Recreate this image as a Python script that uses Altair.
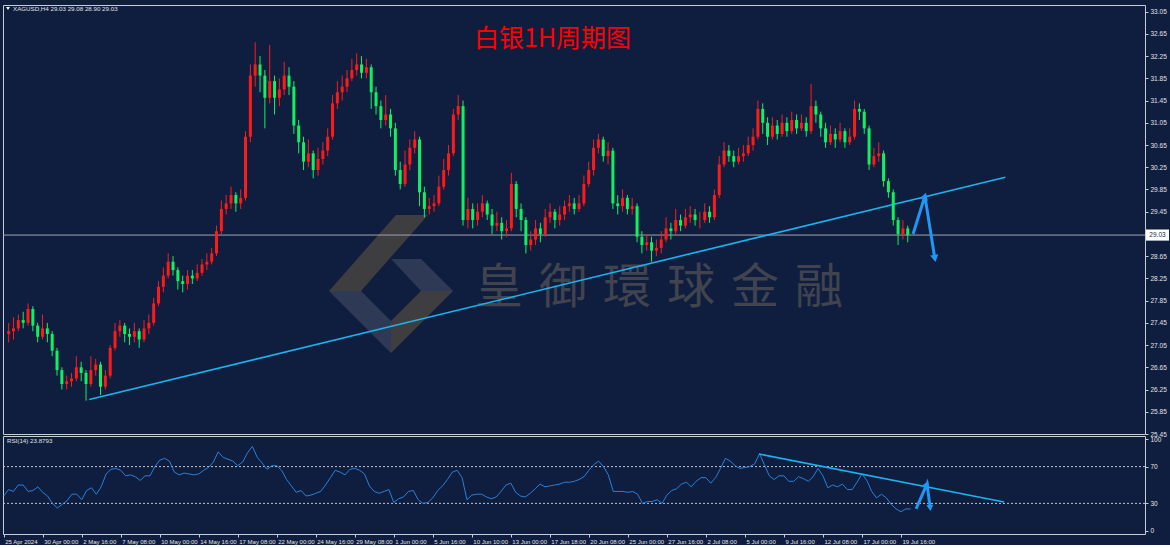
import json
import altair as alt
import pandas as pd

# ---------------- data ----------------
first_open = 27.25
closes = [
    27.30, 27.35, 27.50, 27.45, 27.70, 27.40, 27.20, 27.35, 27.25, 26.95,
    26.60, 26.35, 26.40, 26.45, 26.65, 26.55, 26.35, 26.60, 26.70, 26.30,
    26.50, 27.00, 27.30, 27.40, 27.25, 27.20, 27.30, 27.15, 27.35, 27.45,
    27.80, 28.10, 28.30, 28.55, 28.40, 28.20, 28.15, 28.30, 28.25, 28.35,
    28.50, 28.55, 28.70, 29.10, 29.50, 29.60, 29.75, 29.60, 29.70, 30.80,
    31.90, 32.10, 31.90, 31.50, 31.80, 31.50, 31.65, 31.90, 31.70, 31.00,
    30.70, 30.35, 30.50, 30.20, 30.40, 30.55, 30.80, 31.40, 31.60, 31.70,
    31.85, 32.00, 32.10, 31.95, 32.05, 31.60, 31.35, 31.10, 31.20, 30.95,
    30.20, 29.95, 30.30, 30.60, 30.75, 29.80, 29.50, 29.55, 29.60, 29.90,
    30.20, 30.50, 31.20, 31.35, 29.30, 29.50, 29.30, 29.45, 29.60, 29.40,
    29.20, 29.25, 29.10, 29.15, 29.95, 29.50, 29.30, 28.85, 28.95, 29.15,
    29.05, 29.35, 29.45, 29.30, 29.40, 29.55, 29.60, 29.50, 29.60, 29.95,
    30.20, 30.60, 30.75, 30.45, 30.55, 29.60, 29.55, 29.70, 29.50, 29.55,
    29.00, 28.85, 28.90, 28.75, 28.80, 28.95, 29.15, 29.10, 29.30, 29.20,
    29.35, 29.40, 29.30, 29.30, 29.45, 29.35, 29.75, 30.30, 30.55, 30.45,
    30.35, 30.45, 30.50, 30.65, 30.80, 31.30, 31.05, 30.80, 31.00, 30.85,
    31.05, 30.90, 31.10, 30.95, 31.05, 30.90, 31.35, 31.20, 30.95, 30.70,
    30.85, 30.75, 30.90, 30.70, 30.80, 31.30, 31.25, 30.95, 30.30, 30.45,
    30.50, 30.00, 29.80, 29.30, 29.05, 29.15, 29.03]
highs = [
    27.45, 27.55, 27.60, 27.65, 27.80, 27.75, 27.45, 27.60, 27.45, 27.30,
    27.00, 26.65, 26.50, 26.55, 26.85, 26.75, 26.60, 26.85, 26.80, 26.75,
    26.60, 27.05, 27.45, 27.50, 27.45, 27.35, 27.45, 27.35, 27.50, 27.60,
    27.90, 28.20, 28.45, 28.70, 28.65, 28.45, 28.30, 28.40, 28.40, 28.50,
    28.60, 28.70, 28.80, 29.20, 29.65, 29.75, 29.90, 29.80, 29.85, 30.90,
    32.10, 32.50, 32.25, 32.00, 32.45, 31.90, 31.85, 32.15, 32.05, 31.80,
    31.10, 30.80, 30.75, 30.55, 30.60, 30.70, 30.95, 31.55, 31.80, 31.90,
    32.00, 32.20, 32.30, 32.25, 32.20, 32.10, 31.70, 31.45, 31.55, 31.30,
    31.05, 30.35, 30.55, 30.75, 30.90, 30.80, 29.90, 29.70, 29.75, 30.10,
    30.40, 30.65, 31.30, 31.55, 31.45, 29.70, 29.60, 29.60, 29.75, 29.65,
    29.50, 29.45, 29.35, 29.30, 30.15, 30.00, 29.60, 29.35, 29.10, 29.30,
    29.25, 29.50, 29.60, 29.50, 29.55, 29.65, 29.75, 29.70, 29.75, 30.10,
    30.35, 30.75, 30.85, 30.80, 30.70, 30.60, 29.75, 29.85, 29.75, 29.70,
    29.60, 29.10, 29.05, 29.00, 28.95, 29.10, 29.35, 29.25, 29.50, 29.40,
    29.50, 29.55, 29.50, 29.45, 29.60, 29.55, 29.85, 30.45, 30.70, 30.65,
    30.55, 30.60, 30.65, 30.80, 30.95, 31.45, 31.40, 31.15, 31.15, 31.10,
    31.20, 31.15, 31.25, 31.20, 31.20, 31.15, 31.75, 31.45, 31.25, 31.05,
    31.00, 30.95, 31.05, 30.95, 30.95, 31.45, 31.40, 31.30, 31.00, 30.60,
    30.70, 30.55, 30.05, 29.85, 29.35, 29.30, 29.20]
lows = [
    27.10, 27.15, 27.30, 27.35, 27.40, 27.30, 27.10, 27.15, 27.10, 26.85,
    26.50, 26.25, 26.25, 26.30, 26.40, 26.40, 26.05, 26.30, 26.50, 26.15,
    26.25, 26.45, 26.95, 27.20, 27.10, 27.05, 27.10, 27.00, 27.10, 27.25,
    27.40, 27.75, 28.00, 28.25, 28.30, 28.05, 28.00, 28.05, 28.15, 28.20,
    28.30, 28.40, 28.50, 28.65, 29.05, 29.40, 29.50, 29.45, 29.50, 29.65,
    30.70, 31.70, 31.60, 30.95, 31.40, 31.20, 31.35, 31.55, 31.55, 30.85,
    30.50, 30.20, 30.25, 30.05, 30.10, 30.30, 30.45, 30.75, 31.30, 31.45,
    31.60, 31.80, 31.90, 31.85, 31.85, 31.30, 31.20, 30.95, 31.00, 30.80,
    30.10, 29.85, 29.90, 30.20, 30.50, 29.55, 29.35, 29.40, 29.45, 29.55,
    29.85, 30.10, 30.45, 31.10, 29.20, 29.15, 29.15, 29.20, 29.35, 29.30,
    29.05, 29.10, 28.95, 29.00, 29.10, 29.35, 29.10, 28.70, 28.75, 28.85,
    28.90, 29.00, 29.25, 29.15, 29.20, 29.30, 29.45, 29.40, 29.45, 29.55,
    29.90, 30.10, 30.50, 30.35, 30.30, 29.50, 29.40, 29.45, 29.40, 29.40,
    28.90, 28.70, 28.75, 28.55, 28.65, 28.70, 28.90, 28.95, 29.05, 29.10,
    29.15, 29.25, 29.20, 29.15, 29.25, 29.25, 29.30, 29.70, 30.25, 30.35,
    30.25, 30.30, 30.35, 30.45, 30.55, 30.75, 30.85, 30.65, 30.75, 30.75,
    30.80, 30.80, 30.85, 30.85, 30.90, 30.80, 30.85, 31.05, 30.80, 30.60,
    30.65, 30.60, 30.70, 30.60, 30.65, 30.75, 31.10, 30.85, 30.20, 30.25,
    30.35, 29.90, 29.70, 29.20, 28.85, 28.95, 28.90]
rsi_values = [
    38, 45, 43, 50, 50, 43, 44, 48, 42, 38,
    30, 25, 29, 33, 40, 40, 34, 44, 47, 40,
    48, 62, 67, 68, 66, 60, 61, 59, 55, 60,
    60, 70, 77, 79, 76, 64, 61, 63, 62, 61,
    62, 66, 69, 75, 86, 80, 78, 76, 71, 75,
    85, 92, 80, 74, 67, 71, 71, 66, 56, 49,
    42, 44, 38, 39, 41, 43, 50, 58, 66, 64,
    61, 67, 68, 66, 62, 49, 43, 41, 43, 45,
    31, 35, 37, 43, 44, 34, 30, 31, 36, 44,
    49, 56, 64, 66, 58, 34, 39, 40, 40, 37,
    35, 37, 43, 50, 52, 42, 38, 37, 41, 46,
    51, 48, 49, 50, 51, 53, 53, 54, 56, 59,
    66, 72, 76, 70, 61, 43, 43, 43, 42, 43,
    40, 30, 32, 32, 34, 30, 39, 44, 46, 51,
    53, 48, 54, 58, 58, 52, 58, 68, 79, 76,
    71, 68, 69, 70, 73, 84, 72, 60, 56, 60,
    60, 54, 54, 59, 57, 54, 59, 68, 60, 47,
    50, 48, 51, 45, 45, 53, 62, 55, 43, 36,
    40, 36, 29, 24, 21, 24, 23.88]

bars_per_candle = 2  # each drawn candle covers two H4 bars
x_tick_bars = [0, 16, 32, 48, 64, 80, 96, 112, 128, 144, 160, 176,
               192, 208, 224, 240, 256, 272, 288, 304, 320, 336, 352, 368]
x_tick_labels = ["25 Apr 2024", "30 Apr 00:00", "2 May 16:00", "7 May 08:00",
                 "10 May 00:00", "14 May 16:00", "17 May 08:00", "22 May 00:00",
                 "24 May 16:00", "29 May 08:00", "1 Jun 00:00", "5 Jun 16:00",
                 "10 Jun 10:00", "13 Jun 00:00", "17 Jun 18:00", "20 Jun 08:00",
                 "25 Jun 00:00", "27 Jun 16:00", "2 Jul 08:00", "5 Jul 00:00",
                 "9 Jul 16:00", "12 Jul 08:00", "17 Jul 00:00", "19 Jul 16:00"]
price_ticks = [25.45, 25.85, 26.25, 26.65, 27.05, 27.45, 27.85, 28.25, 28.65,
               29.45, 29.85, 30.25, 30.65, 31.05, 31.45, 31.85, 32.25, 32.65, 33.05]
rsi_ticks = [0, 30, 70, 100]
rsi_levels = [30, 70]
current_price = 29.03

trend_bars = [33.35, 412.4]
trend_prices = [26.07, 30.07]
rsi_trend_bars = [309.8, 410.3]
rsi_trend_values = [83.7, 31.6]
arrow_bars = [374.2, 379.1, 383.2]
arrow_prices = [29.05, 29.73, 28.61]
arrow_head_angles = [17, 171]
rsi_arrow_bars = [374.2, 378.7, 380.0]
rsi_arrow_values = [24.0, 51.1, 25.0]
rsi_arrow_head_angles = [24, 173]

title_text = "白银1H周期图"
header_text = "XAGUSD,H4  29.03 29.08 28.90 29.03"
rsi_label_text = "RSI(14) 23.8793"
watermark_text = "皇\u2004御\u2004環\u2004球\u2004金\u2004融"

# ---------------- styling ----------------
BG = "#0f1e3f"
RED = "#ff1a1a"
GREEN = "#12f062"
CYAN = "#1cb2ee"
ARROW = "#2196f3"
RSI_COL = "#2a7fd8"
TXT = "#e2e2e2"
FONT = "Liberation Sans"
FS = 6.5

W = 1142
H_MAIN = 429
H_RSI = 98

# ---------------- tables ----------------
opens = [first_open] + closes[:-1]
candles = pd.DataFrame({
    "i": [k * bars_per_candle for k in range(len(closes))],
    "open": opens, "close": closes, "high": highs, "low": lows,
})
candles["high"] = candles[["high", "open", "close"]].max(axis=1)
candles["low"] = candles[["low", "open", "close"]].min(axis=1)
candles["dir"] = ["up" if c >= o else "down" for o, c in zip(opens, closes)]
rsi_df = pd.DataFrame({"i": [k * bars_per_candle for k in range(len(rsi_values))],
                       "rsi": rsi_values})

xscale = alt.Scale(domain=[-0.28, 468.1], nice=False, zero=False)
pscale = alt.Scale(domain=[25.45, 33.17], nice=False, zero=False)
rscale = alt.Scale(domain=[-3.3, 103.3], nice=False, zero=False)
colscale = alt.Scale(domain=["up", "down"], range=[RED, GREEN])

price_axis = alt.Axis(orient="right", values=price_ticks, format=".2f", title=None,
                      grid=False, domain=False, tickSize=3, labelPadding=2,
                      labelFlush=False, labelOverlap=False, labelBound=False)
rsi_axis = alt.Axis(orient="right", values=rsi_ticks, format="d", title=None,
                    grid=False, domain=False, tickSize=3, labelPadding=2,
                    labelFlush=False, labelOverlap=False, labelBound=False)
label_expr = ("[" + ",".join("'" + s + "'" for s in x_tick_labels) + "][indexof("
              + json.dumps(x_tick_bars) + ", datum.value)]")
time_axis = alt.Axis(orient="bottom", values=x_tick_bars, labelExpr=label_expr,
                     title=None, grid=False, domain=False, tickSize=3, labelPadding=1,
                     labelAlign="left", labelOffset=1, labelFlush=False, labelFontSize=6,
                     labelOverlap=False, labelBound=False)

XM = alt.X("i:Q", scale=xscale, axis=None)
XR = alt.X("i:Q", scale=xscale, axis=time_axis)


def one(**kw):
    return alt.Chart(pd.DataFrame({k: [v] for k, v in kw.items()}))


# ---------------- main panel ----------------
logo_a = "M0.071,-0.971 L0.529,-0.971 L-0.429,0.114 L-0.886,0.114 Z M0,0.543 L0.429,0.114 L0.886,0.114 L0,1 Z"
logo_b = "M-0.886,0.114 L-0.429,0.114 L0,0.543 L0,1 Z M0,-0.343 L0.429,-0.343 L0.886,0.114 L0.429,0.114 Z"
wm_logo_a = one(a=0).mark_point(shape=logo_a, size=19600, filled=True, color="#3e3d3f",
                                opacity=1, strokeWidth=0).encode(x=alt.value(388), y=alt.value(278))
wm_logo_b = one(a=0).mark_point(shape=logo_b, size=19600, filled=True, color="#2e3955",
                                opacity=1, strokeWidth=0).encode(x=alt.value(388), y=alt.value(278))
wm_text = one(t=watermark_text).mark_text(font="Noto Sans CJK TC", fontSize=48, color="#41434f",
                                          align="center", baseline="middle").encode(
    text="t:N", x=alt.value(656), y=alt.value(284))

title = one(t=title_text).mark_text(font="Noto Sans CJK SC", fontSize=25, color="#ff0000",
                                    align="left", baseline="middle").encode(
    text="t:N", x=alt.value(471), y=alt.value(34))
header = one(t=header_text).mark_text(font=FONT, fontSize=6.2, color=TXT, align="left",
                                      baseline="middle").encode(
    text="t:N", x=alt.value(10), y=alt.value(3.5))
header_tri = one(a=0).mark_point(shape="triangle-down", size=14, filled=True, color="white",
                                 opacity=1).encode(x=alt.value(5), y=alt.value(3.5))

cur_line = one(p=current_price).mark_rule(color="#a0a5ae", strokeWidth=1).encode(
    y=alt.Y("p:Q", scale=pscale, axis=price_axis))
trend = alt.Chart(pd.DataFrame({"i": trend_bars, "p": trend_prices})).mark_line(
    color=CYAN, strokeWidth=1.6).encode(x=XM, y=alt.Y("p:Q", scale=pscale, axis=price_axis))

wicks = alt.Chart(candles).mark_rule(strokeWidth=1, clip=True).encode(
    x=XM, y=alt.Y("low:Q", scale=pscale, axis=price_axis), y2="high:Q",
    color=alt.Color("dir:N", scale=colscale, legend=None))
bodies = alt.Chart(candles).mark_bar(size=3, clip=True).encode(
    x=XM, y=alt.Y("open:Q", scale=pscale, axis=price_axis), y2="close:Q",
    color=alt.Color("dir:N", scale=colscale, legend=None))

arrow_df = pd.DataFrame({"i": arrow_bars, "p": arrow_prices, "o": [0, 1, 2]})
arrow_line = alt.Chart(arrow_df).mark_line(color=ARROW, strokeWidth=3).encode(
    x=XM, y=alt.Y("p:Q", scale=pscale, axis=price_axis), order="o:Q")
arrow_heads = alt.Chart(pd.DataFrame({"i": arrow_bars[1:], "p": arrow_prices[1:],
                                      "a": arrow_head_angles})).mark_point(
    shape="triangle-up", size=70, filled=True, color=ARROW, opacity=1).encode(
    x=XM, y=alt.Y("p:Q", scale=pscale, axis=price_axis),
    angle=alt.Angle("a:Q", scale=None))

box = one(lo=current_price - 0.1, hi=current_price + 0.1).mark_rect(color="white").encode(
    x=alt.value(W + 1), x2=alt.value(W + 24),
    y=alt.Y("lo:Q", scale=pscale, axis=price_axis), y2="hi:Q")
box_text = one(p=current_price, t=f"{current_price:.2f}").mark_text(
    font=FONT, fontSize=FS, color=BG, align="center", baseline="middle").encode(
    text="t:N", x=alt.value(W + 12.5), y=alt.Y("p:Q", scale=pscale, axis=price_axis))

main = alt.layer(
    wm_logo_a, wm_logo_b, wm_text, title, header, header_tri,
    cur_line, trend, wicks, bodies, arrow_line, arrow_heads, box, box_text,
).properties(width=W, height=H_MAIN)

# ---------------- RSI panel ----------------
levels = alt.Chart(pd.DataFrame({"v": rsi_levels})).mark_rule(
    color="#c4c4c4", strokeWidth=1, strokeDash=[2, 2]).encode(
    y=alt.Y("v:Q", scale=rscale, axis=rsi_axis))
rsi_line = alt.Chart(rsi_df).mark_line(color=RSI_COL, strokeWidth=1, clip=True).encode(
    x=XR, y=alt.Y("rsi:Q", scale=rscale, axis=rsi_axis))
rsi_trend = alt.Chart(pd.DataFrame({"i": rsi_trend_bars, "v": rsi_trend_values})).mark_line(
    color=CYAN, strokeWidth=1.6).encode(x=XR, y=alt.Y("v:Q", scale=rscale, axis=rsi_axis))
rsi_arrow_df = pd.DataFrame({"i": rsi_arrow_bars, "v": rsi_arrow_values, "o": [0, 1, 2]})
rsi_arrow = alt.Chart(rsi_arrow_df).mark_line(color=ARROW, strokeWidth=3).encode(
    x=XR, y=alt.Y("v:Q", scale=rscale, axis=rsi_axis), order="o:Q")
rsi_heads = alt.Chart(pd.DataFrame({"i": rsi_arrow_bars[1:], "v": rsi_arrow_values[1:],
                                    "a": rsi_arrow_head_angles})).mark_point(
    shape="triangle-up", size=50, filled=True, color=ARROW, opacity=1).encode(
    x=XR, y=alt.Y("v:Q", scale=rscale, axis=rsi_axis),
    angle=alt.Angle("a:Q", scale=None))
rsi_label = one(t=rsi_label_text).mark_text(font=FONT, fontSize=6.2, color=TXT, align="left",
                                            baseline="middle").encode(
    text="t:N", x=alt.value(4), y=alt.value(5))

rsi = alt.layer(levels, rsi_line, rsi_trend, rsi_arrow, rsi_heads, rsi_label).properties(
    width=W, height=H_RSI)

chart = alt.vconcat(
    main, rsi, spacing=2, bounds="flush",
    padding={"left": 2, "top": 4, "right": 0, "bottom": 0},
    background=BG,
).configure_view(
    stroke="#c8ccd4", strokeWidth=1, fill=BG,
).configure_axis(
    labelFont=FONT, labelFontSize=FS, labelColor=TXT, tickColor="#c8ccd4",
)

chart.save("out.html", embed_options={"renderer": "svg", "actions": False})
